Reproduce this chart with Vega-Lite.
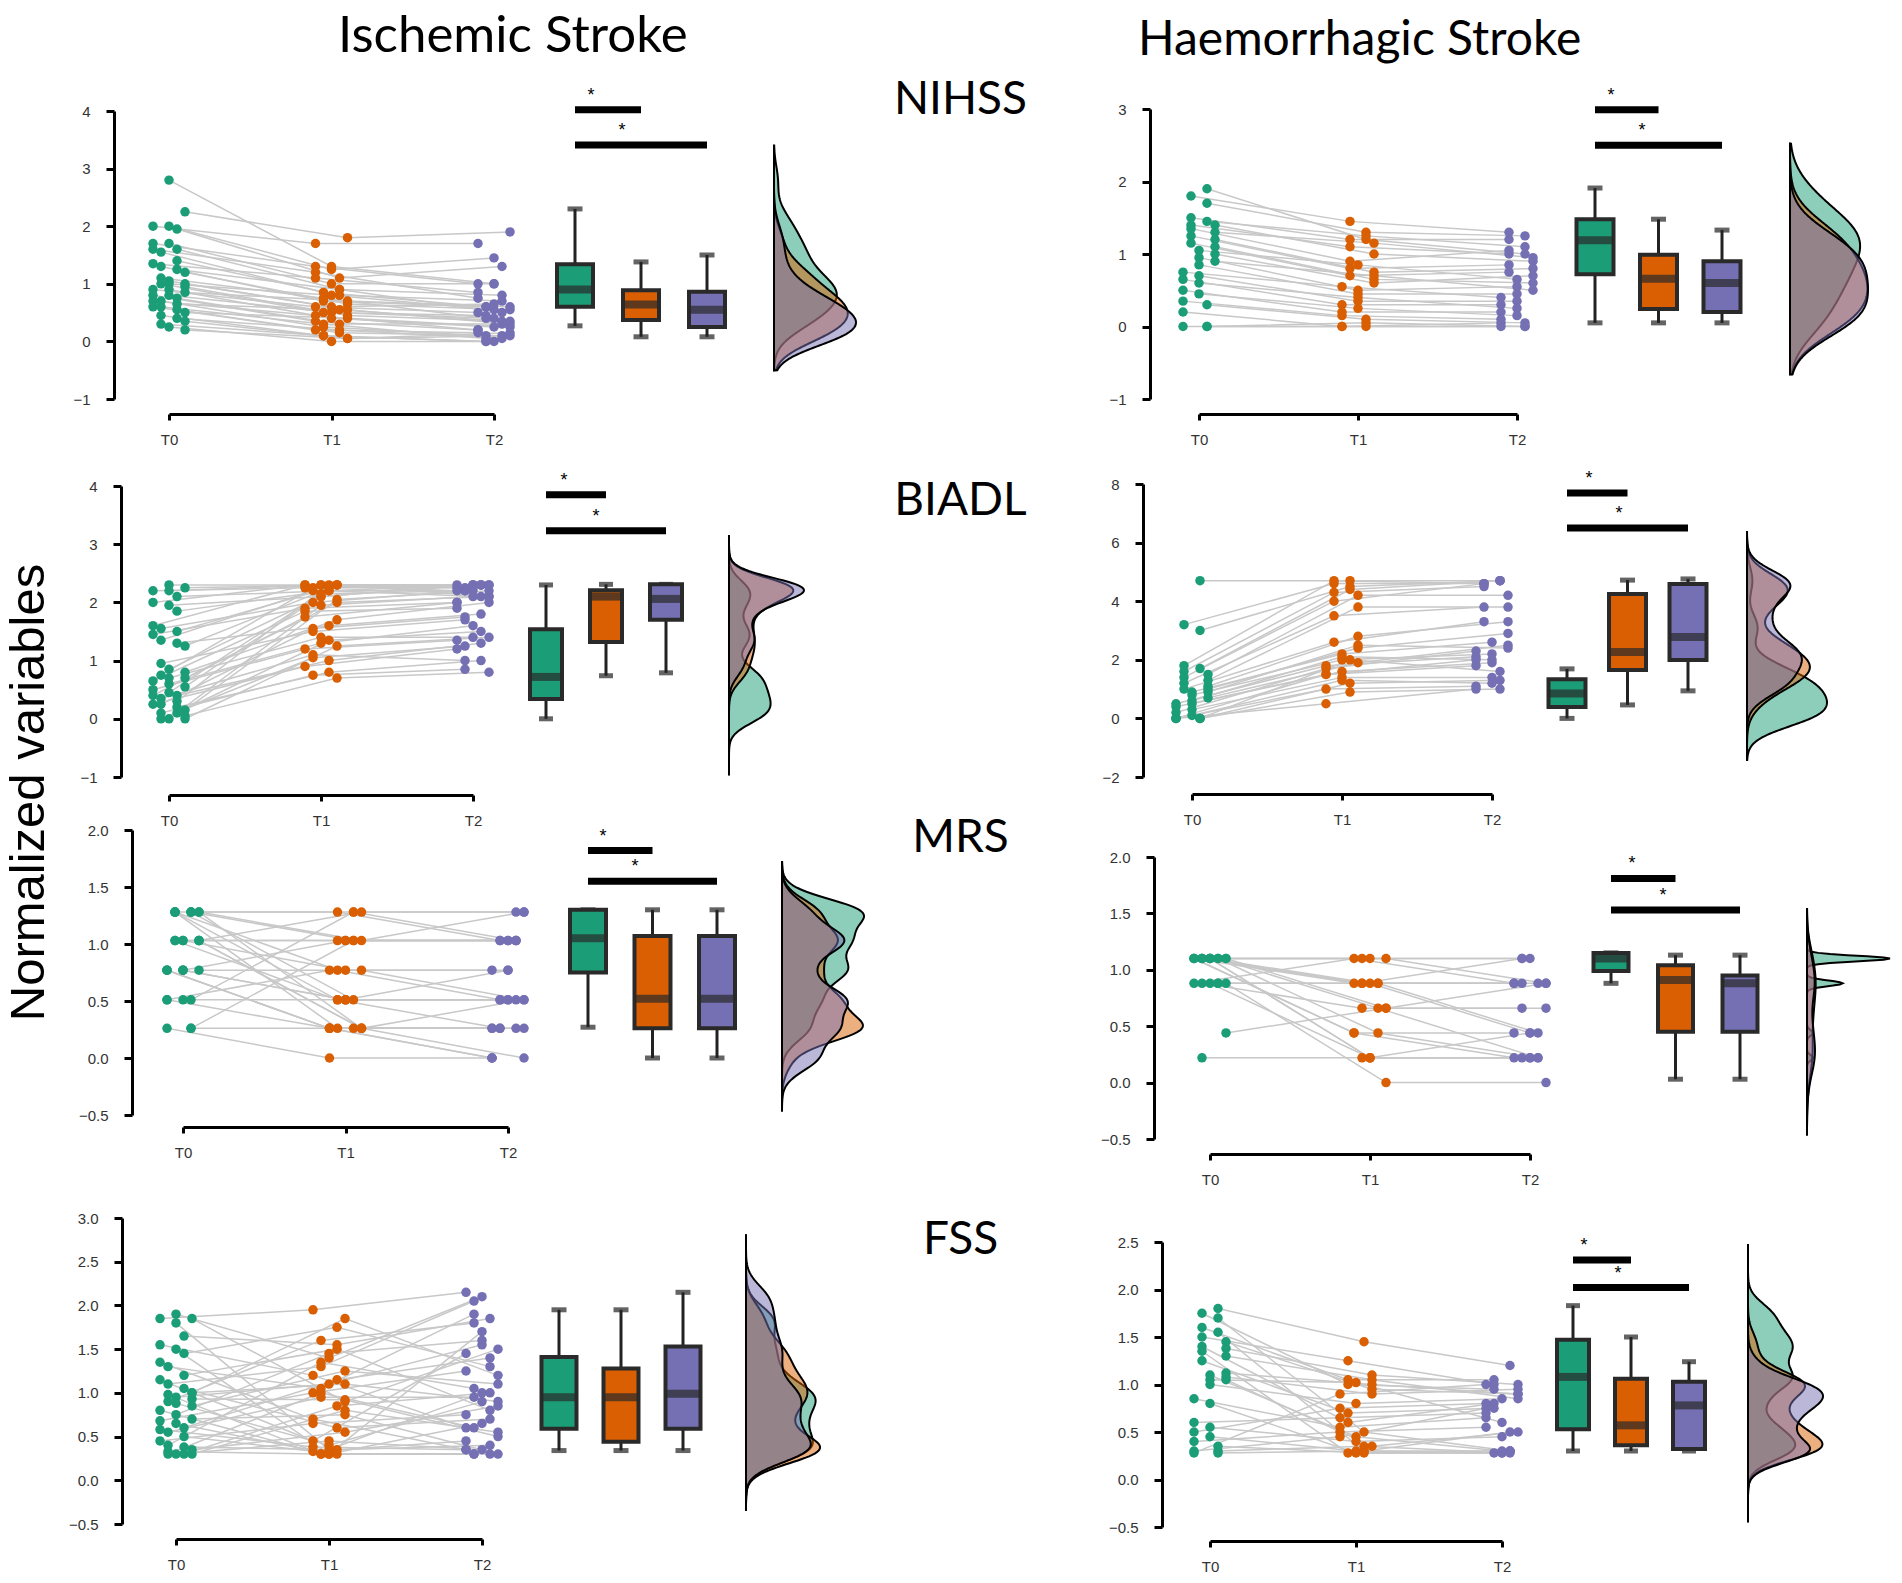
{
"$schema": "https://vega.github.io/schema/vega-lite/v6.json",
"padding": {"left": 5, "top": 11, "right": 5, "bottom": 5},
"title": {"text": "Normalized variables", "orient": "left", "anchor": "middle", "fontSize": 49, "font": "Liberation Sans", "fontWeight": "normal", "color": "#000", "offset": 14},
"datasets": {
"subj": [
{"p":"L1","id":17,"T0":2.8,"T1":1.3,"T2":1.0},{"p":"L1","id":34,"T0":2.25,"T1":1.8,"T2":1.9},{"p":"L1","id":10,"T0":2.0,"T1":1.7,"T2":1.7},{"p":"L1","id":27,"T0":2.0,"T1":1.25,"T2":1.45},{"p":"L1","id":3,"T0":1.95,"T1":1.1,"T2":1.3},{"p":"L1","id":20,"T0":1.7,"T1":1.3,"T2":1.0},{"p":"L1","id":37,"T0":1.7,"T1":1.0,"T2":1.0},{"p":"L1","id":13,"T0":1.6,"T1":0.9,"T2":0.8},{"p":"L1","id":30,"T0":1.6,"T1":1.2,"T2":0.75},{"p":"L1","id":6,"T0":1.55,"T1":0.85,"T2":0.6},{"p":"L1","id":23,"T0":1.4,"T1":0.8,"T2":0.7},{"p":"L1","id":40,"T0":1.35,"T1":1.1,"T2":0.85},{"p":"L1","id":16,"T0":1.3,"T1":0.7,"T2":0.6},{"p":"L1","id":33,"T0":1.25,"T1":0.9,"T2":0.5},{"p":"L1","id":9,"T0":1.2,"T1":0.65,"T2":0.55},{"p":"L1","id":26,"T0":1.1,"T1":0.75,"T2":0.4},{"p":"L1","id":2,"T0":1.05,"T1":0.6,"T2":0.65},{"p":"L1","id":19,"T0":1.0,"T1":0.55,"T2":0.3},{"p":"L1","id":36,"T0":1.0,"T1":0.5,"T2":0.45},{"p":"L1","id":12,"T0":1.0,"T1":0.8,"T2":0.55},{"p":"L1","id":29,"T0":0.95,"T1":0.45,"T2":0.35},{"p":"L1","id":5,"T0":0.9,"T1":0.6,"T2":0.5},{"p":"L1","id":22,"T0":0.9,"T1":0.4,"T2":0.25},{"p":"L1","id":39,"T0":0.85,"T1":0.7,"T2":0.6},{"p":"L1","id":15,"T0":0.8,"T1":0.35,"T2":0.2},{"p":"L1","id":32,"T0":0.8,"T1":0.5,"T2":0.4},{"p":"L1","id":8,"T0":0.75,"T1":0.3,"T2":0.3},{"p":"L1","id":25,"T0":0.7,"T1":0.45,"T2":0.2},{"p":"L1","id":1,"T0":0.7,"T1":0.25,"T2":0.1},{"p":"L1","id":18,"T0":0.65,"T1":0.55,"T2":0.35},{"p":"L1","id":35,"T0":0.6,"T1":0.2,"T2":0.15},{"p":"L1","id":11,"T0":0.6,"T1":0.3,"T2":0.05},{"p":"L1","id":28,"T0":0.55,"T1":0.15,"T2":0.1},{"p":"L1","id":4,"T0":0.5,"T1":0.4,"T2":0.25},{"p":"L1","id":21,"T0":0.45,"T1":0.1,"T2":0.0},{"p":"L1","id":38,"T0":0.4,"T1":0.2,"T2":0.05},{"p":"L1","id":14,"T0":0.35,"T1":0.05,"T2":0.15},{"p":"L1","id":31,"T0":0.3,"T1":0.1,"T2":0.0},{"p":"L1","id":7,"T0":0.25,"T1":0.0,"T2":0.0},{"p":"L1","id":24,"T0":0.2,"T1":0.05,"T2":0.1},
{"p":"R1","id":13,"T0":1.9,"T1":1.2,"T2":1.0},{"p":"R1","id":26,"T0":1.8,"T1":1.45,"T2":1.3},{"p":"R1","id":8,"T0":1.7,"T1":1.3,"T2":1.25},{"p":"R1","id":21,"T0":1.5,"T1":1.2,"T2":1.2},{"p":"R1","id":3,"T0":1.45,"T1":1.25,"T2":1.1},{"p":"R1","id":16,"T0":1.4,"T1":1.1,"T2":1.0},{"p":"R1","id":29,"T0":1.4,"T1":1.0,"T2":0.9},{"p":"R1","id":11,"T0":1.35,"T1":0.9,"T2":1.05},{"p":"R1","id":24,"T0":1.3,"T1":1.15,"T2":0.95},{"p":"R1","id":6,"T0":1.25,"T1":0.8,"T2":0.85},{"p":"R1","id":19,"T0":1.2,"T1":0.75,"T2":0.8},{"p":"R1","id":1,"T0":1.15,"T1":0.7,"T2":0.75},{"p":"R1","id":14,"T0":1.1,"T1":0.65,"T2":0.6},{"p":"R1","id":27,"T0":1.05,"T1":0.85,"T2":0.65},{"p":"R1","id":9,"T0":1.0,"T1":0.6,"T2":0.7},{"p":"R1","id":22,"T0":0.95,"T1":0.5,"T2":0.55},{"p":"R1","id":4,"T0":0.9,"T1":0.7,"T2":0.5},{"p":"R1","id":17,"T0":0.85,"T1":0.45,"T2":0.45},{"p":"R1","id":30,"T0":0.75,"T1":0.55,"T2":0.4},{"p":"R1","id":12,"T0":0.7,"T1":0.35,"T2":0.35},{"p":"R1","id":25,"T0":0.65,"T1":0.3,"T2":0.3},{"p":"R1","id":7,"T0":0.6,"T1":0.4,"T2":0.25},{"p":"R1","id":20,"T0":0.5,"T1":0.2,"T2":0.2},{"p":"R1","id":2,"T0":0.45,"T1":0.25,"T2":0.15},{"p":"R1","id":15,"T0":0.35,"T1":0.15,"T2":0.1},{"p":"R1","id":28,"T0":0.3,"T1":0.1,"T2":0.05},{"p":"R1","id":10,"T0":0.2,"T1":0.0,"T2":0.0},{"p":"R1","id":23,"T0":0.0,"T1":0.0,"T2":0.0},{"p":"R1","id":5,"T0":0.0,"T1":0.0,"T2":0.05},{"p":"R1","id":18,"T0":0.0,"T1":0.05,"T2":0.0},
{"p":"L2","id":17,"T0":2.3,"T1":2.3,"T2":2.3},{"p":"L2","id":34,"T0":2.25,"T1":2.3,"T2":2.3},{"p":"L2","id":10,"T0":2.2,"T1":2.25,"T2":2.3},{"p":"L2","id":27,"T0":2.2,"T1":2.3,"T2":2.25},{"p":"L2","id":3,"T0":2.1,"T1":2.2,"T2":2.3},{"p":"L2","id":20,"T0":2.0,"T1":2.3,"T2":2.2},{"p":"L2","id":37,"T0":1.95,"T1":2.1,"T2":2.3},{"p":"L2","id":13,"T0":1.85,"T1":2.2,"T2":2.1},{"p":"L2","id":30,"T0":1.6,"T1":2.3,"T2":2.25},{"p":"L2","id":6,"T0":1.55,"T1":2.0,"T2":2.2},{"p":"L2","id":23,"T0":1.5,"T1":2.25,"T2":2.3},{"p":"L2","id":40,"T0":1.45,"T1":1.9,"T2":2.0},{"p":"L2","id":16,"T0":1.35,"T1":2.2,"T2":2.2},{"p":"L2","id":33,"T0":1.3,"T1":1.6,"T2":1.8},{"p":"L2","id":9,"T0":1.25,"T1":2.3,"T2":2.1},{"p":"L2","id":26,"T0":0.95,"T1":1.5,"T2":1.7},{"p":"L2","id":2,"T0":0.85,"T1":2.1,"T2":2.3},{"p":"L2","id":19,"T0":0.8,"T1":1.7,"T2":2.0},{"p":"L2","id":36,"T0":0.75,"T1":2.25,"T2":2.25},{"p":"L2","id":12,"T0":0.7,"T1":1.4,"T2":1.4},{"p":"L2","id":29,"T0":0.7,"T1":2.0,"T2":2.1},{"p":"L2","id":5,"T0":0.65,"T1":1.85,"T2":1.9},{"p":"L2","id":22,"T0":0.6,"T1":1.3,"T2":1.6},{"p":"L2","id":39,"T0":0.55,"T1":2.3,"T2":2.3},{"p":"L2","id":15,"T0":0.5,"T1":1.2,"T2":1.35},{"p":"L2","id":32,"T0":0.45,"T1":2.15,"T2":2.2},{"p":"L2","id":8,"T0":0.4,"T1":1.0,"T2":1.3},{"p":"L2","id":25,"T0":0.4,"T1":1.75,"T2":2.0},{"p":"L2","id":1,"T0":0.35,"T1":1.1,"T2":1.0},{"p":"L2","id":18,"T0":0.3,"T1":2.3,"T2":2.3},{"p":"L2","id":35,"T0":0.25,"T1":0.9,"T2":1.2},{"p":"L2","id":11,"T0":0.25,"T1":1.55,"T2":1.75},{"p":"L2","id":28,"T0":0.2,"T1":0.8,"T2":1.0},{"p":"L2","id":4,"T0":0.15,"T1":2.05,"T2":2.2},{"p":"L2","id":21,"T0":0.1,"T1":0.75,"T2":0.85},{"p":"L2","id":38,"T0":0.1,"T1":1.35,"T2":1.5},{"p":"L2","id":14,"T0":0.05,"T1":0.7,"T2":0.8},{"p":"L2","id":31,"T0":0.0,"T1":1.05,"T2":1.25},{"p":"L2","id":7,"T0":0.0,"T1":1.95,"T2":2.1},{"p":"L2","id":24,"T0":0.0,"T1":1.25,"T2":1.4},
{"p":"R2","id":13,"T0":4.7,"T1":4.7,"T2":4.7},{"p":"R2","id":26,"T0":3.2,"T1":4.6,"T2":4.6},{"p":"R2","id":8,"T0":3.0,"T1":4.5,"T2":4.7},{"p":"R2","id":21,"T0":1.8,"T1":4.7,"T2":4.6},{"p":"R2","id":3,"T0":1.7,"T1":4.4,"T2":4.7},{"p":"R2","id":16,"T0":1.6,"T1":4.3,"T2":4.5},{"p":"R2","id":29,"T0":1.5,"T1":4.2,"T2":4.2},{"p":"R2","id":11,"T0":1.4,"T1":4.0,"T2":4.6},{"p":"R2","id":24,"T0":1.3,"T1":3.8,"T2":3.8},{"p":"R2","id":6,"T0":1.2,"T1":3.5,"T2":3.8},{"p":"R2","id":19,"T0":1.1,"T1":2.8,"T2":3.3},{"p":"R2","id":1,"T0":1.0,"T1":2.6,"T2":3.3},{"p":"R2","id":14,"T0":1.0,"T1":2.4,"T2":2.9},{"p":"R2","id":27,"T0":0.9,"T1":2.2,"T2":2.6},{"p":"R2","id":9,"T0":0.9,"T1":2.5,"T2":2.4},{"p":"R2","id":22,"T0":0.8,"T1":2.0,"T2":2.2},{"p":"R2","id":4,"T0":0.7,"T1":1.9,"T2":2.5},{"p":"R2","id":17,"T0":0.6,"T1":2.1,"T2":2.0},{"p":"R2","id":30,"T0":0.5,"T1":1.8,"T2":2.1},{"p":"R2","id":12,"T0":0.5,"T1":1.6,"T2":1.9},{"p":"R2","id":25,"T0":0.4,"T1":1.5,"T2":1.8},{"p":"R2","id":7,"T0":0.3,"T1":1.4,"T2":1.4},{"p":"R2","id":20,"T0":0.2,"T1":1.7,"T2":2.3},{"p":"R2","id":2,"T0":0.1,"T1":1.3,"T2":1.2},{"p":"R2","id":15,"T0":0.0,"T1":1.0,"T2":1.1},{"p":"R2","id":28,"T0":0.0,"T1":0.9,"T2":1.0},{"p":"R2","id":10,"T0":0.0,"T1":0.5,"T2":1.0},{"p":"R2","id":23,"T0":0.0,"T1":2.0,"T2":1.6},{"p":"R2","id":5,"T0":0.0,"T1":1.5,"T2":2.0},{"p":"R2","id":18,"T0":0.0,"T1":1.2,"T2":1.3},
{"p":"L3","id":13,"T0":1.28,"T1":1.28,"T2":1.28},{"p":"L3","id":26,"T0":1.28,"T1":1.28,"T2":1.03},{"p":"L3","id":8,"T0":1.28,"T1":1.03,"T2":1.03},{"p":"L3","id":21,"T0":1.28,"T1":0.77,"T2":0.51},{"p":"L3","id":3,"T0":1.28,"T1":0.51,"T2":0.51},{"p":"L3","id":16,"T0":1.28,"T1":0.26,"T2":0.26},{"p":"L3","id":29,"T0":1.28,"T1":0.26,"T2":0.51},{"p":"L3","id":11,"T0":1.28,"T1":0.51,"T2":0.26},{"p":"L3","id":24,"T0":1.28,"T1":1.03,"T2":1.28},{"p":"L3","id":6,"T0":1.03,"T1":1.03,"T2":1.03},{"p":"L3","id":19,"T0":1.03,"T1":1.28,"T2":1.28},{"p":"L3","id":1,"T0":1.03,"T1":0.51,"T2":0.51},{"p":"L3","id":14,"T0":1.03,"T1":0.26,"T2":0.26},{"p":"L3","id":27,"T0":1.03,"T1":0.77,"T2":0.77},{"p":"L3","id":9,"T0":1.03,"T1":0.26,"T2":0.0},{"p":"L3","id":22,"T0":1.03,"T1":1.03,"T2":1.03},{"p":"L3","id":4,"T0":0.77,"T1":0.77,"T2":0.51},{"p":"L3","id":17,"T0":0.77,"T1":0.51,"T2":0.77},{"p":"L3","id":30,"T0":0.77,"T1":0.26,"T2":0.26},{"p":"L3","id":12,"T0":0.77,"T1":1.03,"T2":1.03},{"p":"L3","id":25,"T0":0.77,"T1":0.26,"T2":0.0},{"p":"L3","id":7,"T0":0.77,"T1":0.51,"T2":0.51},{"p":"L3","id":20,"T0":0.77,"T1":0.26,"T2":0.26},{"p":"L3","id":2,"T0":0.51,"T1":0.51,"T2":0.51},{"p":"L3","id":15,"T0":0.51,"T1":0.26,"T2":0.0},{"p":"L3","id":28,"T0":0.51,"T1":1.28,"T2":1.03},{"p":"L3","id":10,"T0":0.51,"T1":0.77,"T2":0.77},{"p":"L3","id":23,"T0":0.26,"T1":0.26,"T2":0.26},{"p":"L3","id":5,"T0":0.26,"T1":0.0,"T2":0.0},{"p":"L3","id":18,"T0":0.26,"T1":1.03,"T2":1.03},
{"p":"R3","id":7,"T0":1.1,"T1":1.1,"T2":1.1},{"p":"R3","id":14,"T0":1.1,"T1":1.1,"T2":0.88},{"p":"R3","id":21,"T0":1.1,"T1":1.1,"T2":1.1},{"p":"R3","id":5,"T0":1.1,"T1":0.88,"T2":0.88},{"p":"R3","id":12,"T0":1.1,"T1":0.88,"T2":0.44},{"p":"R3","id":19,"T0":1.1,"T1":0.66,"T2":0.66},{"p":"R3","id":3,"T0":1.1,"T1":0.44,"T2":0.22},{"p":"R3","id":10,"T0":1.1,"T1":0.44,"T2":0.44},{"p":"R3","id":17,"T0":1.1,"T1":0.22,"T2":0.22},{"p":"R3","id":1,"T0":1.1,"T1":0.88,"T2":1.1},{"p":"R3","id":8,"T0":1.1,"T1":0.66,"T2":0.22},{"p":"R3","id":15,"T0":1.1,"T1":0.44,"T2":0.22},{"p":"R3","id":22,"T0":1.1,"T1":0.22,"T2":0.44},{"p":"R3","id":6,"T0":1.1,"T1":0.88,"T2":0.88},{"p":"R3","id":13,"T0":0.88,"T1":0.88,"T2":0.88},{"p":"R3","id":20,"T0":0.88,"T1":1.1,"T2":0.88},{"p":"R3","id":4,"T0":0.88,"T1":0.0,"T2":0.0},{"p":"R3","id":11,"T0":0.88,"T1":0.66,"T2":0.66},{"p":"R3","id":18,"T0":0.88,"T1":0.88,"T2":0.44},{"p":"R3","id":2,"T0":0.88,"T1":0.22,"T2":0.22},{"p":"R3","id":9,"T0":0.44,"T1":0.66,"T2":0.88},{"p":"R3","id":16,"T0":0.22,"T1":0.22,"T2":0.22},
{"p":"L4","id":17,"T0":1.9,"T1":1.4,"T2":2.1},{"p":"L4","id":34,"T0":1.85,"T1":0.9,"T2":1.5},{"p":"L4","id":10,"T0":1.85,"T1":1.95,"T2":2.15},{"p":"L4","id":27,"T0":1.8,"T1":0.35,"T2":1.0},{"p":"L4","id":3,"T0":1.65,"T1":1.55,"T2":1.85},{"p":"L4","id":20,"T0":1.55,"T1":1.2,"T2":0.6},{"p":"L4","id":37,"T0":1.5,"T1":0.3,"T2":1.7},{"p":"L4","id":13,"T0":1.45,"T1":1.75,"T2":1.3},{"p":"L4","id":30,"T0":1.35,"T1":0.7,"T2":0.35},{"p":"L4","id":6,"T0":1.3,"T1":1.05,"T2":1.9},{"p":"L4","id":23,"T0":1.2,"T1":1.5,"T2":0.8},{"p":"L4","id":40,"T0":1.15,"T1":0.45,"T2":1.45},{"p":"L4","id":16,"T0":1.1,"T1":1.3,"T2":2.05},{"p":"L4","id":33,"T0":1.05,"T1":0.6,"T2":0.7},{"p":"L4","id":9,"T0":1.0,"T1":1.85,"T2":1.2},{"p":"L4","id":26,"T0":0.98,"T1":0.3,"T2":0.3},{"p":"L4","id":2,"T0":0.95,"T1":1.1,"T2":1.55},{"p":"L4","id":19,"T0":0.93,"T1":0.92,"T2":0.5},{"p":"L4","id":36,"T0":0.9,"T1":1.6,"T2":1.8},{"p":"L4","id":12,"T0":0.88,"T1":0.4,"T2":0.9},{"p":"L4","id":29,"T0":0.85,"T1":1.25,"T2":1.1},{"p":"L4","id":5,"T0":0.8,"T1":0.33,"T2":0.45},{"p":"L4","id":22,"T0":0.75,"T1":1.45,"T2":1.6},{"p":"L4","id":39,"T0":0.7,"T1":0.75,"T2":0.3},{"p":"L4","id":15,"T0":0.68,"T1":1.0,"T2":1.25},{"p":"L4","id":32,"T0":0.65,"T1":0.3,"T2":0.65},{"p":"L4","id":8,"T0":0.6,"T1":1.15,"T2":1.4},{"p":"L4","id":25,"T0":0.58,"T1":0.38,"T2":0.35},{"p":"L4","id":1,"T0":0.55,"T1":0.95,"T2":0.95},{"p":"L4","id":18,"T0":0.5,"T1":0.3,"T2":0.3},{"p":"L4","id":35,"T0":0.45,"T1":0.65,"T2":0.75},{"p":"L4","id":11,"T0":0.4,"T1":1.35,"T2":1.05},{"p":"L4","id":28,"T0":0.38,"T1":0.35,"T2":0.4},{"p":"L4","id":4,"T0":0.35,"T1":0.55,"T2":0.85},{"p":"L4","id":21,"T0":0.33,"T1":0.3,"T2":0.3},{"p":"L4","id":38,"T0":0.3,"T1":0.85,"T2":1.0},{"p":"L4","id":14,"T0":0.3,"T1":0.8,"T2":0.55},{"p":"L4","id":31,"T0":0.3,"T1":1.0,"T2":0.6},{"p":"L4","id":7,"T0":0.3,"T1":0.45,"T2":0.35},{"p":"L4","id":24,"T0":1.0,"T1":1.1,"T2":0.9},
{"p":"R4","id":13,"T0":1.8,"T1":1.45,"T2":1.2},{"p":"R4","id":26,"T0":1.75,"T1":1.0,"T2":0.95},{"p":"R4","id":8,"T0":1.7,"T1":0.5,"T2":0.3},{"p":"R4","id":21,"T0":1.6,"T1":1.05,"T2":1.05},{"p":"R4","id":3,"T0":1.55,"T1":0.3,"T2":0.5},{"p":"R4","id":16,"T0":1.5,"T1":1.25,"T2":1.0},{"p":"R4","id":29,"T0":1.45,"T1":0.95,"T2":0.9},{"p":"R4","id":11,"T0":1.4,"T1":0.6,"T2":0.8},{"p":"R4","id":24,"T0":1.38,"T1":1.1,"T2":1.0},{"p":"R4","id":6,"T0":1.35,"T1":0.28,"T2":0.28},{"p":"R4","id":19,"T0":1.3,"T1":1.05,"T2":0.85},{"p":"R4","id":1,"T0":1.25,"T1":0.7,"T2":0.75},{"p":"R4","id":14,"T0":1.12,"T1":1.0,"T2":0.9},{"p":"R4","id":27,"T0":1.1,"T1":0.45,"T2":0.3},{"p":"R4","id":9,"T0":1.08,"T1":0.9,"T2":0.95},{"p":"R4","id":22,"T0":1.05,"T1":1.02,"T2":0.6},{"p":"R4","id":4,"T0":1.05,"T1":0.35,"T2":0.5},{"p":"R4","id":17,"T0":1.0,"T1":0.8,"T2":0.85},{"p":"R4","id":30,"T0":0.85,"T1":0.55,"T2":0.65},{"p":"R4","id":12,"T0":0.8,"T1":0.28,"T2":0.28},{"p":"R4","id":25,"T0":0.6,"T1":0.65,"T2":0.7},{"p":"R4","id":7,"T0":0.55,"T1":0.4,"T2":0.45},{"p":"R4","id":20,"T0":0.5,"T1":0.75,"T2":0.8},{"p":"R4","id":2,"T0":0.45,"T1":0.3,"T2":0.28},{"p":"R4","id":15,"T0":0.4,"T1":0.5,"T2":0.55},{"p":"R4","id":28,"T0":0.35,"T1":0.28,"T2":0.3},{"p":"R4","id":10,"T0":0.3,"T1":0.45,"T2":0.75},{"p":"R4","id":23,"T0":0.3,"T1":0.35,"T2":0.28},{"p":"R4","id":5,"T0":0.28,"T1":0.9,"T2":1.0},{"p":"R4","id":18,"T0":0.28,"T1":0.3,"T2":0.3}
],
"box": [
{"p":"L1","time":"T0","lo":0.27,"q1":0.60,"med":0.90,"q3":1.34,"hi":2.30},{"p":"L1","time":"T1","lo":0.08,"q1":0.37,"med":0.64,"q3":0.89,"hi":1.38},{"p":"L1","time":"T2","lo":0.08,"q1":0.25,"med":0.55,"q3":0.86,"hi":1.50},
{"p":"R1","time":"T0","lo":0.05,"q1":0.72,"med":1.19,"q3":1.48,"hi":1.91},{"p":"R1","time":"T1","lo":0.05,"q1":0.24,"med":0.66,"q3":0.99,"hi":1.48},{"p":"R1","time":"T2","lo":0.05,"q1":0.20,"med":0.60,"q3":0.90,"hi":1.33},
{"p":"L2","time":"T0","lo":0.0,"q1":0.34,"med":0.72,"q3":1.54,"hi":2.30},{"p":"L2","time":"T1","lo":0.74,"q1":1.32,"med":2.10,"q3":2.21,"hi":2.31},{"p":"L2","time":"T2","lo":0.79,"q1":1.70,"med":2.06,"q3":2.31,"hi":2.31},
{"p":"R2","time":"T0","lo":0.0,"q1":0.39,"med":0.85,"q3":1.34,"hi":1.69},{"p":"R2","time":"T1","lo":0.46,"q1":1.65,"med":2.27,"q3":4.25,"hi":4.72},{"p":"R2","time":"T2","lo":0.94,"q1":1.99,"med":2.78,"q3":4.59,"hi":4.76},
{"p":"L3","time":"T0","lo":0.27,"q1":0.75,"med":1.05,"q3":1.30,"hi":1.30},{"p":"L3","time":"T1","lo":0.0,"q1":0.26,"med":0.52,"q3":1.07,"hi":1.30},{"p":"L3","time":"T2","lo":0.0,"q1":0.26,"med":0.52,"q3":1.07,"hi":1.30},
{"p":"R3","time":"T0","lo":0.88,"q1":0.99,"med":1.10,"q3":1.15,"hi":1.15},{"p":"R3","time":"T1","lo":0.03,"q1":0.45,"med":0.91,"q3":1.04,"hi":1.13},{"p":"R3","time":"T2","lo":0.03,"q1":0.45,"med":0.88,"q3":0.95,"hi":1.13},
{"p":"L4","time":"T0","lo":0.34,"q1":0.59,"med":0.95,"q3":1.41,"hi":1.95},{"p":"L4","time":"T1","lo":0.34,"q1":0.44,"med":0.95,"q3":1.28,"hi":1.95},{"p":"L4","time":"T2","lo":0.34,"q1":0.59,"med":0.99,"q3":1.53,"hi":2.15},
{"p":"R4","time":"T0","lo":0.30,"q1":0.53,"med":1.08,"q3":1.47,"hi":1.83},{"p":"R4","time":"T1","lo":0.30,"q1":0.36,"med":0.57,"q3":1.06,"hi":1.50},{"p":"R4","time":"T2","lo":0.30,"q1":0.32,"med":0.78,"q3":1.03,"hi":1.24}
],
"sig": [
{"p":"L1","from":"T0","to":"T1","y":4.02,"sig":"*"},{"p":"L1","from":"T0","to":"T2","y":3.41,"sig":"*"},
{"p":"R1","from":"T0","to":"T1","y":2.99,"sig":"*"},{"p":"R1","from":"T0","to":"T2","y":2.50,"sig":"*"},
{"p":"L2","from":"T0","to":"T1","y":3.85,"sig":"*"},{"p":"L2","from":"T0","to":"T2","y":3.23,"sig":"*"},
{"p":"R2","from":"T0","to":"T1","y":7.69,"sig":"*"},{"p":"R2","from":"T0","to":"T2","y":6.50,"sig":"*"},
{"p":"L3","from":"T0","to":"T1","y":1.82,"sig":"*"},{"p":"L3","from":"T0","to":"T2","y":1.55,"sig":"*"},
{"p":"R3","from":"T0","to":"T1","y":1.81,"sig":"*"},{"p":"R3","from":"T0","to":"T2","y":1.53,"sig":"*"},
{"p":"R4","from":"T0","to":"T1","y":2.31,"sig":"*"},{"p":"R4","from":"T0","to":"T2","y":2.02,"sig":"*"}
]
},
"columns": 2,
"spacing": 0,
"bounds": "flush",
"concat": [
{"width": 1030, "height": 352,
 "title": {"text": "Ischemic Stroke", "anchor": "start", "frame": "group", "dx": 206, "offset": -41, "baseline": "alphabetic", "fontSize": 51, "font": "Lato", "fontWeight": "normal", "color": "#000"},
 "layer": [
  {"data": {"name": "subj"}, "transform": [{"filter": "datum.p == 'L1'"}, {"fold": ["T0","T1","T2"], "as": ["time","value"]}],
   "layer": [
    {"transform": [{"filter": "datum.id % 5 == 0"}], "mark": {"type": "line", "color": "#c8c8c8", "strokeWidth": 1.5, "xOffset": -16},
     "encoding": {
      "x": {"field": "time", "type": "ordinal", "scale": {"type": "point", "domain": ["T0","T1","T2"], "range": [37,362], "padding": 0}, "axis": {"offset": 0, "title": null}},
      "y": {"field": "value", "type": "quantitative", "scale": {"domain": [-1,4], "range": [337,49], "nice": false, "zero": false}, "axis": {"offset": 18, "values": [-1,0,1,2,3,4], "format": "d", "title": null}},
      "detail": {"field": "id", "type": "nominal"}}},
    {"transform": [{"filter": "datum.id % 5 == 1"}], "mark": {"type": "line", "color": "#c8c8c8", "strokeWidth": 1.5, "xOffset": -8}, "encoding": {"x": {"field": "time", "type": "ordinal"}, "y": {"field": "value", "type": "quantitative"}, "detail": {"field": "id", "type": "nominal"}}},
    {"transform": [{"filter": "datum.id % 5 == 2"}], "mark": {"type": "line", "color": "#c8c8c8", "strokeWidth": 1.5, "xOffset": 0}, "encoding": {"x": {"field": "time", "type": "ordinal"}, "y": {"field": "value", "type": "quantitative"}, "detail": {"field": "id", "type": "nominal"}}},
    {"transform": [{"filter": "datum.id % 5 == 3"}], "mark": {"type": "line", "color": "#c8c8c8", "strokeWidth": 1.5, "xOffset": 8}, "encoding": {"x": {"field": "time", "type": "ordinal"}, "y": {"field": "value", "type": "quantitative"}, "detail": {"field": "id", "type": "nominal"}}},
    {"transform": [{"filter": "datum.id % 5 == 4"}], "mark": {"type": "line", "color": "#c8c8c8", "strokeWidth": 1.5, "xOffset": 16}, "encoding": {"x": {"field": "time", "type": "ordinal"}, "y": {"field": "value", "type": "quantitative"}, "detail": {"field": "id", "type": "nominal"}}},
    {"transform": [{"filter": "datum.id % 5 == 0"}], "mark": {"type": "point", "filled": true, "size": 90, "opacity": 1, "xOffset": -16}, "encoding": {"x": {"field": "time", "type": "ordinal"}, "y": {"field": "value", "type": "quantitative"}, "color": {"field": "time", "type": "nominal", "legend": null}}},
    {"transform": [{"filter": "datum.id % 5 == 1"}], "mark": {"type": "point", "filled": true, "size": 90, "opacity": 1, "xOffset": -8}, "encoding": {"x": {"field": "time", "type": "ordinal"}, "y": {"field": "value", "type": "quantitative"}, "color": {"field": "time", "type": "nominal", "legend": null}}},
    {"transform": [{"filter": "datum.id % 5 == 2"}], "mark": {"type": "point", "filled": true, "size": 90, "opacity": 1, "xOffset": 0}, "encoding": {"x": {"field": "time", "type": "ordinal"}, "y": {"field": "value", "type": "quantitative"}, "color": {"field": "time", "type": "nominal", "legend": null}}},
    {"transform": [{"filter": "datum.id % 5 == 3"}], "mark": {"type": "point", "filled": true, "size": 90, "opacity": 1, "xOffset": 8}, "encoding": {"x": {"field": "time", "type": "ordinal"}, "y": {"field": "value", "type": "quantitative"}, "color": {"field": "time", "type": "nominal", "legend": null}}},
    {"transform": [{"filter": "datum.id % 5 == 4"}], "mark": {"type": "point", "filled": true, "size": 90, "opacity": 1, "xOffset": 16}, "encoding": {"x": {"field": "time", "type": "ordinal"}, "y": {"field": "value", "type": "quantitative"}, "color": {"field": "time", "type": "nominal", "legend": null}}}
   ]},
  {"layer": [
    {"data": {"name": "box"}, "transform": [{"filter": "datum.p == 'L1'"}],
     "layer": [
      {"mark": {"type": "rule", "color": "#222", "strokeWidth": 3}, "encoding": {"x": {"field": "time", "type": "ordinal", "scale": {"type": "point", "domain": ["T0","T1","T2"], "range": [443,575], "padding": 0}, "axis": null}, "y": {"field": "lo", "type": "quantitative"}, "y2": {"field": "hi"}}},
      {"mark": {"type": "tick", "color": "#222", "thickness": 5, "size": 15}, "encoding": {"x": {"field": "time", "type": "ordinal"}, "y": {"field": "lo", "type": "quantitative"}}},
      {"mark": {"type": "tick", "color": "#222", "thickness": 5, "size": 15}, "encoding": {"x": {"field": "time", "type": "ordinal"}, "y": {"field": "hi", "type": "quantitative"}}},
      {"mark": {"type": "bar", "width": 36, "stroke": "#2a2a2a", "strokeWidth": 4}, "encoding": {"x": {"field": "time", "type": "ordinal"}, "y": {"field": "q1", "type": "quantitative"}, "y2": {"field": "q3"}, "color": {"field": "time", "type": "nominal", "legend": null}}},
      {"mark": {"type": "tick", "color": "#2a2a2a", "thickness": 8, "size": 36}, "encoding": {"x": {"field": "time", "type": "ordinal"}, "y": {"field": "med", "type": "quantitative"}}}
     ]},
    {"data": {"name": "sig"}, "transform": [{"filter": "datum.p == 'L1'"}],
     "layer": [
      {"mark": {"type": "rule", "color": "#000", "strokeWidth": 7}, "encoding": {"x": {"field": "from", "type": "ordinal"}, "x2": {"field": "to"}, "y": {"field": "y", "type": "quantitative"}}},
      {"transform": [{"filter": "datum.to == 'T1'"}], "mark": {"type": "text", "fontSize": 18, "dx": 16, "dy": -14}, "encoding": {"x": {"field": "from", "type": "ordinal"}, "y": {"field": "y", "type": "quantitative"}, "text": {"field": "sig"}}},
      {"transform": [{"filter": "datum.to == 'T2'"}], "mark": {"type": "text", "fontSize": 18, "dx": 47, "dy": -14}, "encoding": {"x": {"field": "from", "type": "ordinal"}, "y": {"field": "y", "type": "quantitative"}, "text": {"field": "sig"}}}
     ]}
  ]},
  {"data": {"name": "subj"}, "transform": [{"filter": "datum.p == 'L1'"}, {"fold": ["T0","T1","T2"], "as": ["time","value"]}, {"density": "value", "groupby": ["time"], "bandwidth": 0.25, "extent": [-0.5, 3.4]}],
   "mark": {"type": "area", "orient": "horizontal", "fillOpacity": 0.5, "stroke": "#000", "strokeWidth": 2},
   "encoding": {"y": {"field": "value", "type": "quantitative"}, "x": {"field": "density", "type": "quantitative", "stack": null, "scale": {"range": [642,724], "nice": false}, "axis": null}, "color": {"field": "time", "type": "nominal", "legend": null}}}
 ],
 "resolve": {"scale": {"x": "independent"}, "axis": {"x": "independent"}}
},
{"width": 730, "height": 352,
 "title": {"text": "Haemorrhagic Stroke", "anchor": "start", "frame": "group", "dx": -24, "offset": -41, "baseline": "alphabetic", "fontSize": 48, "font": "Lato", "fontWeight": "normal", "color": "#000"},
 "layer": [
  {"data": {"name": "subj"}, "transform": [{"filter": "datum.p == 'R1'"}, {"fold": ["T0","T1","T2"], "as": ["time","value"]}],
   "layer": [
    {"transform": [{"filter": "datum.id % 5 == 0"}], "mark": {"type": "line", "color": "#c8c8c8", "strokeWidth": 1.5, "xOffset": -16},
     "encoding": {
      "x": {"field": "time", "type": "ordinal", "scale": {"type": "point", "domain": ["T0","T1","T2"], "range": [37,355], "padding": 0}, "axis": {"offset": 0, "title": null}},
      "y": {"field": "value", "type": "quantitative", "scale": {"domain": [-1,3], "range": [337,47], "nice": false, "zero": false}, "axis": {"offset": 12, "values": [-1,0,1,2,3], "format": "d", "title": "NIHSS", "titleAngle": 0, "titleX": -190, "titleY": 37, "titleAlign": "center", "titleBaseline": "middle", "titleFontSize": 46}},
      "detail": {"field": "id", "type": "nominal"}}},
    {"transform": [{"filter": "datum.id % 5 == 1"}], "mark": {"type": "line", "color": "#c8c8c8", "strokeWidth": 1.5, "xOffset": -8}, "encoding": {"x": {"field": "time", "type": "ordinal"}, "y": {"field": "value", "type": "quantitative"}, "detail": {"field": "id", "type": "nominal"}}},
    {"transform": [{"filter": "datum.id % 5 == 2"}], "mark": {"type": "line", "color": "#c8c8c8", "strokeWidth": 1.5, "xOffset": 0}, "encoding": {"x": {"field": "time", "type": "ordinal"}, "y": {"field": "value", "type": "quantitative"}, "detail": {"field": "id", "type": "nominal"}}},
    {"transform": [{"filter": "datum.id % 5 == 3"}], "mark": {"type": "line", "color": "#c8c8c8", "strokeWidth": 1.5, "xOffset": 8}, "encoding": {"x": {"field": "time", "type": "ordinal"}, "y": {"field": "value", "type": "quantitative"}, "detail": {"field": "id", "type": "nominal"}}},
    {"transform": [{"filter": "datum.id % 5 == 4"}], "mark": {"type": "line", "color": "#c8c8c8", "strokeWidth": 1.5, "xOffset": 16}, "encoding": {"x": {"field": "time", "type": "ordinal"}, "y": {"field": "value", "type": "quantitative"}, "detail": {"field": "id", "type": "nominal"}}},
    {"transform": [{"filter": "datum.id % 5 == 0"}], "mark": {"type": "point", "filled": true, "size": 90, "opacity": 1, "xOffset": -16}, "encoding": {"x": {"field": "time", "type": "ordinal"}, "y": {"field": "value", "type": "quantitative"}, "color": {"field": "time", "type": "nominal", "legend": null}}},
    {"transform": [{"filter": "datum.id % 5 == 1"}], "mark": {"type": "point", "filled": true, "size": 90, "opacity": 1, "xOffset": -8}, "encoding": {"x": {"field": "time", "type": "ordinal"}, "y": {"field": "value", "type": "quantitative"}, "color": {"field": "time", "type": "nominal", "legend": null}}},
    {"transform": [{"filter": "datum.id % 5 == 2"}], "mark": {"type": "point", "filled": true, "size": 90, "opacity": 1, "xOffset": 0}, "encoding": {"x": {"field": "time", "type": "ordinal"}, "y": {"field": "value", "type": "quantitative"}, "color": {"field": "time", "type": "nominal", "legend": null}}},
    {"transform": [{"filter": "datum.id % 5 == 3"}], "mark": {"type": "point", "filled": true, "size": 90, "opacity": 1, "xOffset": 8}, "encoding": {"x": {"field": "time", "type": "ordinal"}, "y": {"field": "value", "type": "quantitative"}, "color": {"field": "time", "type": "nominal", "legend": null}}},
    {"transform": [{"filter": "datum.id % 5 == 4"}], "mark": {"type": "point", "filled": true, "size": 90, "opacity": 1, "xOffset": 16}, "encoding": {"x": {"field": "time", "type": "ordinal"}, "y": {"field": "value", "type": "quantitative"}, "color": {"field": "time", "type": "nominal", "legend": null}}}
   ]},
  {"layer": [
    {"data": {"name": "box"}, "transform": [{"filter": "datum.p == 'R1'"}],
     "layer": [
      {"mark": {"type": "rule", "color": "#222", "strokeWidth": 3}, "encoding": {"x": {"field": "time", "type": "ordinal", "scale": {"type": "point", "domain": ["T0","T1","T2"], "range": [433,560], "padding": 0}, "axis": null}, "y": {"field": "lo", "type": "quantitative"}, "y2": {"field": "hi"}}},
      {"mark": {"type": "tick", "color": "#222", "thickness": 5, "size": 15}, "encoding": {"x": {"field": "time", "type": "ordinal"}, "y": {"field": "lo", "type": "quantitative"}}},
      {"mark": {"type": "tick", "color": "#222", "thickness": 5, "size": 15}, "encoding": {"x": {"field": "time", "type": "ordinal"}, "y": {"field": "hi", "type": "quantitative"}}},
      {"mark": {"type": "bar", "width": 37, "stroke": "#2a2a2a", "strokeWidth": 4}, "encoding": {"x": {"field": "time", "type": "ordinal"}, "y": {"field": "q1", "type": "quantitative"}, "y2": {"field": "q3"}, "color": {"field": "time", "type": "nominal", "legend": null}}},
      {"mark": {"type": "tick", "color": "#2a2a2a", "thickness": 8, "size": 37}, "encoding": {"x": {"field": "time", "type": "ordinal"}, "y": {"field": "med", "type": "quantitative"}}}
     ]},
    {"data": {"name": "sig"}, "transform": [{"filter": "datum.p == 'R1'"}],
     "layer": [
      {"mark": {"type": "rule", "color": "#000", "strokeWidth": 7}, "encoding": {"x": {"field": "from", "type": "ordinal"}, "x2": {"field": "to"}, "y": {"field": "y", "type": "quantitative"}}},
      {"transform": [{"filter": "datum.to == 'T1'"}], "mark": {"type": "text", "fontSize": 18, "dx": 16, "dy": -14}, "encoding": {"x": {"field": "from", "type": "ordinal"}, "y": {"field": "y", "type": "quantitative"}, "text": {"field": "sig"}}},
      {"transform": [{"filter": "datum.to == 'T2'"}], "mark": {"type": "text", "fontSize": 18, "dx": 47, "dy": -14}, "encoding": {"x": {"field": "from", "type": "ordinal"}, "y": {"field": "y", "type": "quantitative"}, "text": {"field": "sig"}}}
     ]}
  ]},
  {"data": {"name": "subj"}, "transform": [{"filter": "datum.p == 'R1'"}, {"fold": ["T0","T1","T2"], "as": ["time","value"]}, {"density": "value", "groupby": ["time"], "bandwidth": 0.3, "extent": [-0.66, 2.52]}],
   "mark": {"type": "area", "orient": "horizontal", "fillOpacity": 0.5, "stroke": "#000", "strokeWidth": 2},
   "encoding": {"y": {"field": "value", "type": "quantitative"}, "x": {"field": "density", "type": "quantitative", "stack": null, "scale": {"range": [628,706], "nice": false}, "axis": null}, "color": {"field": "time", "type": "nominal", "legend": null}}}
 ],
 "resolve": {"scale": {"x": "independent"}, "axis": {"x": "independent"}}
},
{"width": 1030, "height": 380,
 "layer": [
  {"data": {"name": "subj"}, "transform": [{"filter": "datum.p == 'L2'"}, {"fold": ["T0","T1","T2"], "as": ["time","value"]}],
   "layer": [
    {"transform": [{"filter": "datum.id % 5 == 0"}], "mark": {"type": "line", "color": "#c8c8c8", "strokeWidth": 1.5, "xOffset": -16},
     "encoding": {
      "x": {"field": "time", "type": "ordinal", "scale": {"type": "point", "domain": ["T0","T1","T2"], "range": [37,341], "padding": 0}, "axis": {"offset": 1, "title": null}},
      "y": {"field": "value", "type": "quantitative", "scale": {"domain": [-1,4], "range": [363,72], "nice": false, "zero": false}, "axis": {"offset": 11, "values": [-1,0,1,2,3,4], "format": "d", "title": null}},
      "detail": {"field": "id", "type": "nominal"}}},
    {"transform": [{"filter": "datum.id % 5 == 1"}], "mark": {"type": "line", "color": "#c8c8c8", "strokeWidth": 1.5, "xOffset": -8}, "encoding": {"x": {"field": "time", "type": "ordinal"}, "y": {"field": "value", "type": "quantitative"}, "detail": {"field": "id", "type": "nominal"}}},
    {"transform": [{"filter": "datum.id % 5 == 2"}], "mark": {"type": "line", "color": "#c8c8c8", "strokeWidth": 1.5, "xOffset": 0}, "encoding": {"x": {"field": "time", "type": "ordinal"}, "y": {"field": "value", "type": "quantitative"}, "detail": {"field": "id", "type": "nominal"}}},
    {"transform": [{"filter": "datum.id % 5 == 3"}], "mark": {"type": "line", "color": "#c8c8c8", "strokeWidth": 1.5, "xOffset": 8}, "encoding": {"x": {"field": "time", "type": "ordinal"}, "y": {"field": "value", "type": "quantitative"}, "detail": {"field": "id", "type": "nominal"}}},
    {"transform": [{"filter": "datum.id % 5 == 4"}], "mark": {"type": "line", "color": "#c8c8c8", "strokeWidth": 1.5, "xOffset": 16}, "encoding": {"x": {"field": "time", "type": "ordinal"}, "y": {"field": "value", "type": "quantitative"}, "detail": {"field": "id", "type": "nominal"}}},
    {"transform": [{"filter": "datum.id % 5 == 0"}], "mark": {"type": "point", "filled": true, "size": 90, "opacity": 1, "xOffset": -16}, "encoding": {"x": {"field": "time", "type": "ordinal"}, "y": {"field": "value", "type": "quantitative"}, "color": {"field": "time", "type": "nominal", "legend": null}}},
    {"transform": [{"filter": "datum.id % 5 == 1"}], "mark": {"type": "point", "filled": true, "size": 90, "opacity": 1, "xOffset": -8}, "encoding": {"x": {"field": "time", "type": "ordinal"}, "y": {"field": "value", "type": "quantitative"}, "color": {"field": "time", "type": "nominal", "legend": null}}},
    {"transform": [{"filter": "datum.id % 5 == 2"}], "mark": {"type": "point", "filled": true, "size": 90, "opacity": 1, "xOffset": 0}, "encoding": {"x": {"field": "time", "type": "ordinal"}, "y": {"field": "value", "type": "quantitative"}, "color": {"field": "time", "type": "nominal", "legend": null}}},
    {"transform": [{"filter": "datum.id % 5 == 3"}], "mark": {"type": "point", "filled": true, "size": 90, "opacity": 1, "xOffset": 8}, "encoding": {"x": {"field": "time", "type": "ordinal"}, "y": {"field": "value", "type": "quantitative"}, "color": {"field": "time", "type": "nominal", "legend": null}}},
    {"transform": [{"filter": "datum.id % 5 == 4"}], "mark": {"type": "point", "filled": true, "size": 90, "opacity": 1, "xOffset": 16}, "encoding": {"x": {"field": "time", "type": "ordinal"}, "y": {"field": "value", "type": "quantitative"}, "color": {"field": "time", "type": "nominal", "legend": null}}}
   ]},
  {"layer": [
    {"data": {"name": "box"}, "transform": [{"filter": "datum.p == 'L2'"}],
     "layer": [
      {"mark": {"type": "rule", "color": "#222", "strokeWidth": 3}, "encoding": {"x": {"field": "time", "type": "ordinal", "scale": {"type": "point", "domain": ["T0","T1","T2"], "range": [414,534], "padding": 0}, "axis": null}, "y": {"field": "lo", "type": "quantitative"}, "y2": {"field": "hi"}}},
      {"mark": {"type": "tick", "color": "#222", "thickness": 5, "size": 14}, "encoding": {"x": {"field": "time", "type": "ordinal"}, "y": {"field": "lo", "type": "quantitative"}}},
      {"mark": {"type": "tick", "color": "#222", "thickness": 5, "size": 14}, "encoding": {"x": {"field": "time", "type": "ordinal"}, "y": {"field": "hi", "type": "quantitative"}}},
      {"mark": {"type": "bar", "width": 32, "stroke": "#2a2a2a", "strokeWidth": 4}, "encoding": {"x": {"field": "time", "type": "ordinal"}, "y": {"field": "q1", "type": "quantitative"}, "y2": {"field": "q3"}, "color": {"field": "time", "type": "nominal", "legend": null}}},
      {"mark": {"type": "tick", "color": "#2a2a2a", "thickness": 8, "size": 32}, "encoding": {"x": {"field": "time", "type": "ordinal"}, "y": {"field": "med", "type": "quantitative"}}}
     ]},
    {"data": {"name": "sig"}, "transform": [{"filter": "datum.p == 'L2'"}],
     "layer": [
      {"mark": {"type": "rule", "color": "#000", "strokeWidth": 7}, "encoding": {"x": {"field": "from", "type": "ordinal"}, "x2": {"field": "to"}, "y": {"field": "y", "type": "quantitative"}}},
      {"transform": [{"filter": "datum.to == 'T1'"}], "mark": {"type": "text", "fontSize": 18, "dx": 18, "dy": -14}, "encoding": {"x": {"field": "from", "type": "ordinal"}, "y": {"field": "y", "type": "quantitative"}, "text": {"field": "sig"}}},
      {"transform": [{"filter": "datum.to == 'T2'"}], "mark": {"type": "text", "fontSize": 18, "dx": 50, "dy": -14}, "encoding": {"x": {"field": "from", "type": "ordinal"}, "y": {"field": "y", "type": "quantitative"}, "text": {"field": "sig"}}}
     ]}
  ]},
  {"data": {"name": "subj"}, "transform": [{"filter": "datum.p == 'L2'"}, {"fold": ["T0","T1","T2"], "as": ["time","value"]}, {"density": "value", "groupby": ["time"], "bandwidth": 0.18, "extent": [-0.97, 3.16]}],
   "mark": {"type": "area", "orient": "horizontal", "fillOpacity": 0.5, "stroke": "#000", "strokeWidth": 2},
   "encoding": {"y": {"field": "value", "type": "quantitative"}, "x": {"field": "density", "type": "quantitative", "stack": null, "scale": {"range": [597,672], "nice": false}, "axis": null}, "color": {"field": "time", "type": "nominal", "legend": null}}}
 ],
 "resolve": {"scale": {"x": "independent"}, "axis": {"x": "independent"}}
},
{"width": 730, "height": 380,
 "layer": [
  {"data": {"name": "subj"}, "transform": [{"filter": "datum.p == 'R2'"}, {"fold": ["T0","T1","T2"], "as": ["time","value"]}],
   "layer": [
    {"transform": [{"filter": "datum.id % 5 == 0"}], "mark": {"type": "line", "color": "#c8c8c8", "strokeWidth": 1.5, "xOffset": -16},
     "encoding": {
      "x": {"field": "time", "type": "ordinal", "scale": {"type": "point", "domain": ["T0","T1","T2"], "range": [30,330], "padding": 0}, "axis": {"offset": 0, "title": null}},
      "y": {"field": "value", "type": "quantitative", "scale": {"domain": [-2,8], "range": [363,70], "nice": false, "zero": false}, "axis": {"offset": 19, "values": [-2,0,2,4,6,8], "format": "d", "title": "BIADL", "titleAngle": 0, "titleX": -183, "titleY": 86, "titleAlign": "center", "titleBaseline": "middle", "titleFontSize": 46}},
      "detail": {"field": "id", "type": "nominal"}}},
    {"transform": [{"filter": "datum.id % 5 == 1"}], "mark": {"type": "line", "color": "#c8c8c8", "strokeWidth": 1.5, "xOffset": -8}, "encoding": {"x": {"field": "time", "type": "ordinal"}, "y": {"field": "value", "type": "quantitative"}, "detail": {"field": "id", "type": "nominal"}}},
    {"transform": [{"filter": "datum.id % 5 == 2"}], "mark": {"type": "line", "color": "#c8c8c8", "strokeWidth": 1.5, "xOffset": 0}, "encoding": {"x": {"field": "time", "type": "ordinal"}, "y": {"field": "value", "type": "quantitative"}, "detail": {"field": "id", "type": "nominal"}}},
    {"transform": [{"filter": "datum.id % 5 == 3"}], "mark": {"type": "line", "color": "#c8c8c8", "strokeWidth": 1.5, "xOffset": 8}, "encoding": {"x": {"field": "time", "type": "ordinal"}, "y": {"field": "value", "type": "quantitative"}, "detail": {"field": "id", "type": "nominal"}}},
    {"transform": [{"filter": "datum.id % 5 == 4"}], "mark": {"type": "line", "color": "#c8c8c8", "strokeWidth": 1.5, "xOffset": 16}, "encoding": {"x": {"field": "time", "type": "ordinal"}, "y": {"field": "value", "type": "quantitative"}, "detail": {"field": "id", "type": "nominal"}}},
    {"transform": [{"filter": "datum.id % 5 == 0"}], "mark": {"type": "point", "filled": true, "size": 90, "opacity": 1, "xOffset": -16}, "encoding": {"x": {"field": "time", "type": "ordinal"}, "y": {"field": "value", "type": "quantitative"}, "color": {"field": "time", "type": "nominal", "legend": null}}},
    {"transform": [{"filter": "datum.id % 5 == 1"}], "mark": {"type": "point", "filled": true, "size": 90, "opacity": 1, "xOffset": -8}, "encoding": {"x": {"field": "time", "type": "ordinal"}, "y": {"field": "value", "type": "quantitative"}, "color": {"field": "time", "type": "nominal", "legend": null}}},
    {"transform": [{"filter": "datum.id % 5 == 2"}], "mark": {"type": "point", "filled": true, "size": 90, "opacity": 1, "xOffset": 0}, "encoding": {"x": {"field": "time", "type": "ordinal"}, "y": {"field": "value", "type": "quantitative"}, "color": {"field": "time", "type": "nominal", "legend": null}}},
    {"transform": [{"filter": "datum.id % 5 == 3"}], "mark": {"type": "point", "filled": true, "size": 90, "opacity": 1, "xOffset": 8}, "encoding": {"x": {"field": "time", "type": "ordinal"}, "y": {"field": "value", "type": "quantitative"}, "color": {"field": "time", "type": "nominal", "legend": null}}},
    {"transform": [{"filter": "datum.id % 5 == 4"}], "mark": {"type": "point", "filled": true, "size": 90, "opacity": 1, "xOffset": 16}, "encoding": {"x": {"field": "time", "type": "ordinal"}, "y": {"field": "value", "type": "quantitative"}, "color": {"field": "time", "type": "nominal", "legend": null}}}
   ]},
  {"layer": [
    {"data": {"name": "box"}, "transform": [{"filter": "datum.p == 'R2'"}],
     "layer": [
      {"mark": {"type": "rule", "color": "#222", "strokeWidth": 3}, "encoding": {"x": {"field": "time", "type": "ordinal", "scale": {"type": "point", "domain": ["T0","T1","T2"], "range": [405,526], "padding": 0}, "axis": null}, "y": {"field": "lo", "type": "quantitative"}, "y2": {"field": "hi"}}},
      {"mark": {"type": "tick", "color": "#222", "thickness": 5, "size": 15}, "encoding": {"x": {"field": "time", "type": "ordinal"}, "y": {"field": "lo", "type": "quantitative"}}},
      {"mark": {"type": "tick", "color": "#222", "thickness": 5, "size": 15}, "encoding": {"x": {"field": "time", "type": "ordinal"}, "y": {"field": "hi", "type": "quantitative"}}},
      {"mark": {"type": "bar", "width": 37, "stroke": "#2a2a2a", "strokeWidth": 4}, "encoding": {"x": {"field": "time", "type": "ordinal"}, "y": {"field": "q1", "type": "quantitative"}, "y2": {"field": "q3"}, "color": {"field": "time", "type": "nominal", "legend": null}}},
      {"mark": {"type": "tick", "color": "#2a2a2a", "thickness": 8, "size": 37}, "encoding": {"x": {"field": "time", "type": "ordinal"}, "y": {"field": "med", "type": "quantitative"}}}
     ]},
    {"data": {"name": "sig"}, "transform": [{"filter": "datum.p == 'R2'"}],
     "layer": [
      {"mark": {"type": "rule", "color": "#000", "strokeWidth": 7}, "encoding": {"x": {"field": "from", "type": "ordinal"}, "x2": {"field": "to"}, "y": {"field": "y", "type": "quantitative"}}},
      {"transform": [{"filter": "datum.to == 'T1'"}], "mark": {"type": "text", "fontSize": 18, "dx": 22, "dy": -14}, "encoding": {"x": {"field": "from", "type": "ordinal"}, "y": {"field": "y", "type": "quantitative"}, "text": {"field": "sig"}}},
      {"transform": [{"filter": "datum.to == 'T2'"}], "mark": {"type": "text", "fontSize": 18, "dx": 52, "dy": -14}, "encoding": {"x": {"field": "from", "type": "ordinal"}, "y": {"field": "y", "type": "quantitative"}, "text": {"field": "sig"}}}
     ]}
  ]},
  {"data": {"name": "subj"}, "transform": [{"filter": "datum.p == 'R2'"}, {"fold": ["T0","T1","T2"], "as": ["time","value"]}, {"density": "value", "groupby": ["time"], "bandwidth": 0.45, "extent": [-1.42, 6.36]}],
   "mark": {"type": "area", "orient": "horizontal", "fillOpacity": 0.5, "stroke": "#000", "strokeWidth": 2},
   "encoding": {"y": {"field": "value", "type": "quantitative"}, "x": {"field": "density", "type": "quantitative", "stack": null, "scale": {"range": [585,665], "nice": false}, "axis": null}, "color": {"field": "time", "type": "nominal", "legend": null}}}
 ],
 "resolve": {"scale": {"x": "independent"}, "axis": {"x": "independent"}}
},
{"width": 1030, "height": 333,
 "layer": [
  {"data": {"name": "subj"}, "transform": [{"filter": "datum.p == 'L3'"}, {"fold": ["T0","T1","T2"], "as": ["time","value"]}],
   "layer": [
    {"transform": [{"filter": "datum.id % 5 == 0"}], "mark": {"type": "line", "color": "#c8c8c8", "strokeWidth": 1.5, "xOffset": -16},
     "encoding": {
      "x": {"field": "time", "type": "ordinal", "scale": {"type": "point", "domain": ["T0","T1","T2"], "range": [51,376], "padding": 0}, "axis": {"offset": 0, "title": null}},
      "y": {"field": "value", "type": "quantitative", "scale": {"domain": [-0.5,2], "range": [321,36], "nice": false, "zero": false}, "axis": {"offset": 0, "values": [-0.5,0,0.5,1,1.5,2], "format": ".1f", "title": null}},
      "detail": {"field": "id", "type": "nominal"}}},
    {"transform": [{"filter": "datum.id % 5 == 1"}], "mark": {"type": "line", "color": "#c8c8c8", "strokeWidth": 1.5, "xOffset": -8}, "encoding": {"x": {"field": "time", "type": "ordinal"}, "y": {"field": "value", "type": "quantitative"}, "detail": {"field": "id", "type": "nominal"}}},
    {"transform": [{"filter": "datum.id % 5 == 2"}], "mark": {"type": "line", "color": "#c8c8c8", "strokeWidth": 1.5, "xOffset": 0}, "encoding": {"x": {"field": "time", "type": "ordinal"}, "y": {"field": "value", "type": "quantitative"}, "detail": {"field": "id", "type": "nominal"}}},
    {"transform": [{"filter": "datum.id % 5 == 3"}], "mark": {"type": "line", "color": "#c8c8c8", "strokeWidth": 1.5, "xOffset": 8}, "encoding": {"x": {"field": "time", "type": "ordinal"}, "y": {"field": "value", "type": "quantitative"}, "detail": {"field": "id", "type": "nominal"}}},
    {"transform": [{"filter": "datum.id % 5 == 4"}], "mark": {"type": "line", "color": "#c8c8c8", "strokeWidth": 1.5, "xOffset": 16}, "encoding": {"x": {"field": "time", "type": "ordinal"}, "y": {"field": "value", "type": "quantitative"}, "detail": {"field": "id", "type": "nominal"}}},
    {"transform": [{"filter": "datum.id % 5 == 0"}], "mark": {"type": "point", "filled": true, "size": 90, "opacity": 1, "xOffset": -16}, "encoding": {"x": {"field": "time", "type": "ordinal"}, "y": {"field": "value", "type": "quantitative"}, "color": {"field": "time", "type": "nominal", "legend": null}}},
    {"transform": [{"filter": "datum.id % 5 == 1"}], "mark": {"type": "point", "filled": true, "size": 90, "opacity": 1, "xOffset": -8}, "encoding": {"x": {"field": "time", "type": "ordinal"}, "y": {"field": "value", "type": "quantitative"}, "color": {"field": "time", "type": "nominal", "legend": null}}},
    {"transform": [{"filter": "datum.id % 5 == 2"}], "mark": {"type": "point", "filled": true, "size": 90, "opacity": 1, "xOffset": 0}, "encoding": {"x": {"field": "time", "type": "ordinal"}, "y": {"field": "value", "type": "quantitative"}, "color": {"field": "time", "type": "nominal", "legend": null}}},
    {"transform": [{"filter": "datum.id % 5 == 3"}], "mark": {"type": "point", "filled": true, "size": 90, "opacity": 1, "xOffset": 8}, "encoding": {"x": {"field": "time", "type": "ordinal"}, "y": {"field": "value", "type": "quantitative"}, "color": {"field": "time", "type": "nominal", "legend": null}}},
    {"transform": [{"filter": "datum.id % 5 == 4"}], "mark": {"type": "point", "filled": true, "size": 90, "opacity": 1, "xOffset": 16}, "encoding": {"x": {"field": "time", "type": "ordinal"}, "y": {"field": "value", "type": "quantitative"}, "color": {"field": "time", "type": "nominal", "legend": null}}}
   ]},
  {"layer": [
    {"data": {"name": "box"}, "transform": [{"filter": "datum.p == 'L3'"}],
     "layer": [
      {"mark": {"type": "rule", "color": "#222", "strokeWidth": 3}, "encoding": {"x": {"field": "time", "type": "ordinal", "scale": {"type": "point", "domain": ["T0","T1","T2"], "range": [456,585], "padding": 0}, "axis": null}, "y": {"field": "lo", "type": "quantitative"}, "y2": {"field": "hi"}}},
      {"mark": {"type": "tick", "color": "#222", "thickness": 5, "size": 15}, "encoding": {"x": {"field": "time", "type": "ordinal"}, "y": {"field": "lo", "type": "quantitative"}}},
      {"mark": {"type": "tick", "color": "#222", "thickness": 5, "size": 15}, "encoding": {"x": {"field": "time", "type": "ordinal"}, "y": {"field": "hi", "type": "quantitative"}}},
      {"mark": {"type": "bar", "width": 36, "stroke": "#2a2a2a", "strokeWidth": 4}, "encoding": {"x": {"field": "time", "type": "ordinal"}, "y": {"field": "q1", "type": "quantitative"}, "y2": {"field": "q3"}, "color": {"field": "time", "type": "nominal", "legend": null}}},
      {"mark": {"type": "tick", "color": "#2a2a2a", "thickness": 8, "size": 36}, "encoding": {"x": {"field": "time", "type": "ordinal"}, "y": {"field": "med", "type": "quantitative"}}}
     ]},
    {"data": {"name": "sig"}, "transform": [{"filter": "datum.p == 'L3'"}],
     "layer": [
      {"mark": {"type": "rule", "color": "#000", "strokeWidth": 7}, "encoding": {"x": {"field": "from", "type": "ordinal"}, "x2": {"field": "to"}, "y": {"field": "y", "type": "quantitative"}}},
      {"transform": [{"filter": "datum.to == 'T1'"}], "mark": {"type": "text", "fontSize": 18, "dx": 15, "dy": -14}, "encoding": {"x": {"field": "from", "type": "ordinal"}, "y": {"field": "y", "type": "quantitative"}, "text": {"field": "sig"}}},
      {"transform": [{"filter": "datum.to == 'T2'"}], "mark": {"type": "text", "fontSize": 18, "dx": 47, "dy": -14}, "encoding": {"x": {"field": "from", "type": "ordinal"}, "y": {"field": "y", "type": "quantitative"}, "text": {"field": "sig"}}}
     ]}
  ]},
  {"data": {"name": "subj"}, "transform": [{"filter": "datum.p == 'L3'"}, {"fold": ["T0","T1","T2"], "as": ["time","value"]}, {"density": "value", "groupby": ["time"], "bandwidth": 0.12, "extent": [-0.46, 1.72]}],
   "mark": {"type": "area", "orient": "horizontal", "fillOpacity": 0.5, "stroke": "#000", "strokeWidth": 2},
   "encoding": {"y": {"field": "value", "type": "quantitative"}, "x": {"field": "density", "type": "quantitative", "stack": null, "scale": {"range": [650,732], "nice": false}, "axis": null}, "color": {"field": "time", "type": "nominal", "legend": null}}}
 ],
 "resolve": {"scale": {"x": "independent"}, "axis": {"x": "independent"}}
},
{"width": 730, "height": 333,
 "layer": [
  {"data": {"name": "subj"}, "transform": [{"filter": "datum.p == 'R3'"}, {"fold": ["T0","T1","T2"], "as": ["time","value"]}],
   "layer": [
    {"transform": [{"filter": "datum.id % 5 == 0"}], "mark": {"type": "line", "color": "#c8c8c8", "strokeWidth": 1.5, "xOffset": -16},
     "encoding": {
      "x": {"field": "time", "type": "ordinal", "scale": {"type": "point", "domain": ["T0","T1","T2"], "range": [48,368], "padding": 0}, "axis": {"offset": 27, "title": null}},
      "y": {"field": "value", "type": "quantitative", "scale": {"domain": [-0.5,2], "range": [345,63], "nice": false, "zero": false}, "axis": {"offset": 8, "values": [-0.5,0,0.5,1,1.5,2], "format": ".1f", "title": "MRS", "titleAngle": 0, "titleX": -194, "titleY": 43, "titleAlign": "center", "titleBaseline": "middle", "titleFontSize": 46}},
      "detail": {"field": "id", "type": "nominal"}}},
    {"transform": [{"filter": "datum.id % 5 == 1"}], "mark": {"type": "line", "color": "#c8c8c8", "strokeWidth": 1.5, "xOffset": -8}, "encoding": {"x": {"field": "time", "type": "ordinal"}, "y": {"field": "value", "type": "quantitative"}, "detail": {"field": "id", "type": "nominal"}}},
    {"transform": [{"filter": "datum.id % 5 == 2"}], "mark": {"type": "line", "color": "#c8c8c8", "strokeWidth": 1.5, "xOffset": 0}, "encoding": {"x": {"field": "time", "type": "ordinal"}, "y": {"field": "value", "type": "quantitative"}, "detail": {"field": "id", "type": "nominal"}}},
    {"transform": [{"filter": "datum.id % 5 == 3"}], "mark": {"type": "line", "color": "#c8c8c8", "strokeWidth": 1.5, "xOffset": 8}, "encoding": {"x": {"field": "time", "type": "ordinal"}, "y": {"field": "value", "type": "quantitative"}, "detail": {"field": "id", "type": "nominal"}}},
    {"transform": [{"filter": "datum.id % 5 == 4"}], "mark": {"type": "line", "color": "#c8c8c8", "strokeWidth": 1.5, "xOffset": 16}, "encoding": {"x": {"field": "time", "type": "ordinal"}, "y": {"field": "value", "type": "quantitative"}, "detail": {"field": "id", "type": "nominal"}}},
    {"transform": [{"filter": "datum.id % 5 == 0"}], "mark": {"type": "point", "filled": true, "size": 90, "opacity": 1, "xOffset": -16}, "encoding": {"x": {"field": "time", "type": "ordinal"}, "y": {"field": "value", "type": "quantitative"}, "color": {"field": "time", "type": "nominal", "legend": null}}},
    {"transform": [{"filter": "datum.id % 5 == 1"}], "mark": {"type": "point", "filled": true, "size": 90, "opacity": 1, "xOffset": -8}, "encoding": {"x": {"field": "time", "type": "ordinal"}, "y": {"field": "value", "type": "quantitative"}, "color": {"field": "time", "type": "nominal", "legend": null}}},
    {"transform": [{"filter": "datum.id % 5 == 2"}], "mark": {"type": "point", "filled": true, "size": 90, "opacity": 1, "xOffset": 0}, "encoding": {"x": {"field": "time", "type": "ordinal"}, "y": {"field": "value", "type": "quantitative"}, "color": {"field": "time", "type": "nominal", "legend": null}}},
    {"transform": [{"filter": "datum.id % 5 == 3"}], "mark": {"type": "point", "filled": true, "size": 90, "opacity": 1, "xOffset": 8}, "encoding": {"x": {"field": "time", "type": "ordinal"}, "y": {"field": "value", "type": "quantitative"}, "color": {"field": "time", "type": "nominal", "legend": null}}},
    {"transform": [{"filter": "datum.id % 5 == 4"}], "mark": {"type": "point", "filled": true, "size": 90, "opacity": 1, "xOffset": 16}, "encoding": {"x": {"field": "time", "type": "ordinal"}, "y": {"field": "value", "type": "quantitative"}, "color": {"field": "time", "type": "nominal", "legend": null}}}
   ]},
  {"layer": [
    {"data": {"name": "box"}, "transform": [{"filter": "datum.p == 'R3'"}],
     "layer": [
      {"mark": {"type": "rule", "color": "#222", "strokeWidth": 3}, "encoding": {"x": {"field": "time", "type": "ordinal", "scale": {"type": "point", "domain": ["T0","T1","T2"], "range": [449,578], "padding": 0}, "axis": null}, "y": {"field": "lo", "type": "quantitative"}, "y2": {"field": "hi"}}},
      {"mark": {"type": "tick", "color": "#222", "thickness": 5, "size": 15}, "encoding": {"x": {"field": "time", "type": "ordinal"}, "y": {"field": "lo", "type": "quantitative"}}},
      {"mark": {"type": "tick", "color": "#222", "thickness": 5, "size": 15}, "encoding": {"x": {"field": "time", "type": "ordinal"}, "y": {"field": "hi", "type": "quantitative"}}},
      {"mark": {"type": "bar", "width": 35, "stroke": "#2a2a2a", "strokeWidth": 4}, "encoding": {"x": {"field": "time", "type": "ordinal"}, "y": {"field": "q1", "type": "quantitative"}, "y2": {"field": "q3"}, "color": {"field": "time", "type": "nominal", "legend": null}}},
      {"mark": {"type": "tick", "color": "#2a2a2a", "thickness": 8, "size": 35}, "encoding": {"x": {"field": "time", "type": "ordinal"}, "y": {"field": "med", "type": "quantitative"}}}
     ]},
    {"data": {"name": "sig"}, "transform": [{"filter": "datum.p == 'R3'"}],
     "layer": [
      {"mark": {"type": "rule", "color": "#000", "strokeWidth": 7}, "encoding": {"x": {"field": "from", "type": "ordinal"}, "x2": {"field": "to"}, "y": {"field": "y", "type": "quantitative"}}},
      {"transform": [{"filter": "datum.to == 'T1'"}], "mark": {"type": "text", "fontSize": 18, "dx": 21, "dy": -14}, "encoding": {"x": {"field": "from", "type": "ordinal"}, "y": {"field": "y", "type": "quantitative"}, "text": {"field": "sig"}}},
      {"transform": [{"filter": "datum.to == 'T2'"}], "mark": {"type": "text", "fontSize": 18, "dx": 52, "dy": -14}, "encoding": {"x": {"field": "from", "type": "ordinal"}, "y": {"field": "y", "type": "quantitative"}, "text": {"field": "sig"}}}
     ]}
  ]},
  {"data": {"name": "subj"}, "transform": [{"filter": "datum.p == 'R3'"}, {"fold": ["T0","T1","T2"], "as": ["time","value"]}],
   "layer": [
    {"transform": [{"filter": "datum.time == 'T0'"}, {"density": "value", "groupby": ["time"], "bandwidth": 0.025, "extent": [-0.46, 1.54]}],
     "mark": {"type": "area", "orient": "horizontal", "fillOpacity": 0.5, "stroke": "#000", "strokeWidth": 2},
     "encoding": {"y": {"field": "value", "type": "quantitative"}, "x": {"field": "density", "type": "quantitative", "stack": null, "scale": {"range": [645,728], "nice": false}, "axis": null}, "color": {"field": "time", "type": "nominal", "legend": null}}},
    {"transform": [{"filter": "datum.time == 'T1'"}, {"density": "value", "groupby": ["time"], "bandwidth": 0.15, "extent": [-0.46, 1.54]}],
     "mark": {"type": "area", "orient": "horizontal", "fillOpacity": 0.5, "stroke": "#000", "strokeWidth": 2},
     "encoding": {"y": {"field": "value", "type": "quantitative"}, "x": {"field": "density", "type": "quantitative", "stack": null, "axis": null}, "color": {"field": "time", "type": "nominal", "legend": null}}},
    {"transform": [{"filter": "datum.time == 'T2'"}, {"density": "value", "groupby": ["time"], "bandwidth": 0.15, "extent": [-0.46, 1.54]}],
     "mark": {"type": "area", "orient": "horizontal", "fillOpacity": 0.5, "stroke": "#000", "strokeWidth": 2},
     "encoding": {"y": {"field": "value", "type": "quantitative"}, "x": {"field": "density", "type": "quantitative", "stack": null, "axis": null}, "color": {"field": "time", "type": "nominal", "legend": null}}}
   ]}
 ],
 "resolve": {"scale": {"x": "independent"}, "axis": {"x": "independent"}}
},
{"width": 1030, "height": 412,
 "layer": [
  {"data": {"name": "subj"}, "transform": [{"filter": "datum.p == 'L4'"}, {"fold": ["T0","T1","T2"], "as": ["time","value"]}],
   "layer": [
    {"transform": [{"filter": "datum.id % 5 == 0"}], "mark": {"type": "line", "color": "#c8c8c8", "strokeWidth": 1.5, "xOffset": -16},
     "encoding": {
      "x": {"field": "time", "type": "ordinal", "scale": {"type": "point", "domain": ["T0","T1","T2"], "range": [44,350], "padding": 0}, "axis": {"offset": 0, "title": null}},
      "y": {"field": "value", "type": "quantitative", "scale": {"domain": [-0.5,3], "range": [397,91], "nice": false, "zero": false}, "axis": {"offset": 10, "values": [-0.5,0,0.5,1,1.5,2,2.5,3], "format": ".1f", "title": null}},
      "detail": {"field": "id", "type": "nominal"}}},
    {"transform": [{"filter": "datum.id % 5 == 1"}], "mark": {"type": "line", "color": "#c8c8c8", "strokeWidth": 1.5, "xOffset": -8}, "encoding": {"x": {"field": "time", "type": "ordinal"}, "y": {"field": "value", "type": "quantitative"}, "detail": {"field": "id", "type": "nominal"}}},
    {"transform": [{"filter": "datum.id % 5 == 2"}], "mark": {"type": "line", "color": "#c8c8c8", "strokeWidth": 1.5, "xOffset": 0}, "encoding": {"x": {"field": "time", "type": "ordinal"}, "y": {"field": "value", "type": "quantitative"}, "detail": {"field": "id", "type": "nominal"}}},
    {"transform": [{"filter": "datum.id % 5 == 3"}], "mark": {"type": "line", "color": "#c8c8c8", "strokeWidth": 1.5, "xOffset": 8}, "encoding": {"x": {"field": "time", "type": "ordinal"}, "y": {"field": "value", "type": "quantitative"}, "detail": {"field": "id", "type": "nominal"}}},
    {"transform": [{"filter": "datum.id % 5 == 4"}], "mark": {"type": "line", "color": "#c8c8c8", "strokeWidth": 1.5, "xOffset": 16}, "encoding": {"x": {"field": "time", "type": "ordinal"}, "y": {"field": "value", "type": "quantitative"}, "detail": {"field": "id", "type": "nominal"}}},
    {"transform": [{"filter": "datum.id % 5 == 0"}], "mark": {"type": "point", "filled": true, "size": 90, "opacity": 1, "xOffset": -16}, "encoding": {"x": {"field": "time", "type": "ordinal"}, "y": {"field": "value", "type": "quantitative"}, "color": {"field": "time", "type": "nominal", "legend": null}}},
    {"transform": [{"filter": "datum.id % 5 == 1"}], "mark": {"type": "point", "filled": true, "size": 90, "opacity": 1, "xOffset": -8}, "encoding": {"x": {"field": "time", "type": "ordinal"}, "y": {"field": "value", "type": "quantitative"}, "color": {"field": "time", "type": "nominal", "legend": null}}},
    {"transform": [{"filter": "datum.id % 5 == 2"}], "mark": {"type": "point", "filled": true, "size": 90, "opacity": 1, "xOffset": 0}, "encoding": {"x": {"field": "time", "type": "ordinal"}, "y": {"field": "value", "type": "quantitative"}, "color": {"field": "time", "type": "nominal", "legend": null}}},
    {"transform": [{"filter": "datum.id % 5 == 3"}], "mark": {"type": "point", "filled": true, "size": 90, "opacity": 1, "xOffset": 8}, "encoding": {"x": {"field": "time", "type": "ordinal"}, "y": {"field": "value", "type": "quantitative"}, "color": {"field": "time", "type": "nominal", "legend": null}}},
    {"transform": [{"filter": "datum.id % 5 == 4"}], "mark": {"type": "point", "filled": true, "size": 90, "opacity": 1, "xOffset": 16}, "encoding": {"x": {"field": "time", "type": "ordinal"}, "y": {"field": "value", "type": "quantitative"}, "color": {"field": "time", "type": "nominal", "legend": null}}}
   ]},
  {"data": {"name": "box"}, "transform": [{"filter": "datum.p == 'L4'"}],
   "layer": [
    {"mark": {"type": "rule", "color": "#222", "strokeWidth": 3}, "encoding": {"x": {"field": "time", "type": "ordinal", "scale": {"type": "point", "domain": ["T0","T1","T2"], "range": [427,551], "padding": 0}, "axis": null}, "y": {"field": "lo", "type": "quantitative"}, "y2": {"field": "hi"}}},
    {"mark": {"type": "tick", "color": "#222", "thickness": 5, "size": 15}, "encoding": {"x": {"field": "time", "type": "ordinal"}, "y": {"field": "lo", "type": "quantitative"}}},
    {"mark": {"type": "tick", "color": "#222", "thickness": 5, "size": 15}, "encoding": {"x": {"field": "time", "type": "ordinal"}, "y": {"field": "hi", "type": "quantitative"}}},
    {"mark": {"type": "bar", "width": 35, "stroke": "#2a2a2a", "strokeWidth": 4}, "encoding": {"x": {"field": "time", "type": "ordinal"}, "y": {"field": "q1", "type": "quantitative"}, "y2": {"field": "q3"}, "color": {"field": "time", "type": "nominal", "legend": null}}},
    {"mark": {"type": "tick", "color": "#2a2a2a", "thickness": 8, "size": 35}, "encoding": {"x": {"field": "time", "type": "ordinal"}, "y": {"field": "med", "type": "quantitative"}}}
   ]},
  {"data": {"name": "subj"}, "transform": [{"filter": "datum.p == 'L4'"}, {"fold": ["T0","T1","T2"], "as": ["time","value"]}, {"density": "value", "groupby": ["time"], "bandwidth": 0.15, "extent": [-0.34, 2.81]}],
   "mark": {"type": "area", "orient": "horizontal", "fillOpacity": 0.5, "stroke": "#000", "strokeWidth": 2},
   "encoding": {"y": {"field": "value", "type": "quantitative"}, "x": {"field": "density", "type": "quantitative", "stack": null, "scale": {"range": [614,688], "nice": false}, "axis": null}, "color": {"field": "time", "type": "nominal", "legend": null}}}
 ],
 "resolve": {"scale": {"x": "independent"}, "axis": {"x": "independent"}}
},
{"width": 730, "height": 412,
 "layer": [
  {"data": {"name": "subj"}, "transform": [{"filter": "datum.p == 'R4'"}, {"fold": ["T0","T1","T2"], "as": ["time","value"]}],
   "layer": [
    {"transform": [{"filter": "datum.id % 5 == 0"}], "mark": {"type": "line", "color": "#c8c8c8", "strokeWidth": 1.5, "xOffset": -16},
     "encoding": {
      "x": {"field": "time", "type": "ordinal", "scale": {"type": "point", "domain": ["T0","T1","T2"], "range": [48,340], "padding": 0}, "axis": {"offset": 2, "title": null}},
      "y": {"field": "value", "type": "quantitative", "scale": {"domain": [-0.5,2.5], "range": [400,115], "nice": false, "zero": false}, "axis": {"offset": 0, "values": [-0.5,0,0.5,1,1.5,2,2.5], "format": ".1f", "title": "FSS", "titleAngle": 0, "titleX": -202, "titleY": 112, "titleAlign": "center", "titleBaseline": "middle", "titleFontSize": 46}},
      "detail": {"field": "id", "type": "nominal"}}},
    {"transform": [{"filter": "datum.id % 5 == 1"}], "mark": {"type": "line", "color": "#c8c8c8", "strokeWidth": 1.5, "xOffset": -8}, "encoding": {"x": {"field": "time", "type": "ordinal"}, "y": {"field": "value", "type": "quantitative"}, "detail": {"field": "id", "type": "nominal"}}},
    {"transform": [{"filter": "datum.id % 5 == 2"}], "mark": {"type": "line", "color": "#c8c8c8", "strokeWidth": 1.5, "xOffset": 0}, "encoding": {"x": {"field": "time", "type": "ordinal"}, "y": {"field": "value", "type": "quantitative"}, "detail": {"field": "id", "type": "nominal"}}},
    {"transform": [{"filter": "datum.id % 5 == 3"}], "mark": {"type": "line", "color": "#c8c8c8", "strokeWidth": 1.5, "xOffset": 8}, "encoding": {"x": {"field": "time", "type": "ordinal"}, "y": {"field": "value", "type": "quantitative"}, "detail": {"field": "id", "type": "nominal"}}},
    {"transform": [{"filter": "datum.id % 5 == 4"}], "mark": {"type": "line", "color": "#c8c8c8", "strokeWidth": 1.5, "xOffset": 16}, "encoding": {"x": {"field": "time", "type": "ordinal"}, "y": {"field": "value", "type": "quantitative"}, "detail": {"field": "id", "type": "nominal"}}},
    {"transform": [{"filter": "datum.id % 5 == 0"}], "mark": {"type": "point", "filled": true, "size": 90, "opacity": 1, "xOffset": -16}, "encoding": {"x": {"field": "time", "type": "ordinal"}, "y": {"field": "value", "type": "quantitative"}, "color": {"field": "time", "type": "nominal", "legend": null}}},
    {"transform": [{"filter": "datum.id % 5 == 1"}], "mark": {"type": "point", "filled": true, "size": 90, "opacity": 1, "xOffset": -8}, "encoding": {"x": {"field": "time", "type": "ordinal"}, "y": {"field": "value", "type": "quantitative"}, "color": {"field": "time", "type": "nominal", "legend": null}}},
    {"transform": [{"filter": "datum.id % 5 == 2"}], "mark": {"type": "point", "filled": true, "size": 90, "opacity": 1, "xOffset": 0}, "encoding": {"x": {"field": "time", "type": "ordinal"}, "y": {"field": "value", "type": "quantitative"}, "color": {"field": "time", "type": "nominal", "legend": null}}},
    {"transform": [{"filter": "datum.id % 5 == 3"}], "mark": {"type": "point", "filled": true, "size": 90, "opacity": 1, "xOffset": 8}, "encoding": {"x": {"field": "time", "type": "ordinal"}, "y": {"field": "value", "type": "quantitative"}, "color": {"field": "time", "type": "nominal", "legend": null}}},
    {"transform": [{"filter": "datum.id % 5 == 4"}], "mark": {"type": "point", "filled": true, "size": 90, "opacity": 1, "xOffset": 16}, "encoding": {"x": {"field": "time", "type": "ordinal"}, "y": {"field": "value", "type": "quantitative"}, "color": {"field": "time", "type": "nominal", "legend": null}}}
   ]},
  {"layer": [
    {"data": {"name": "box"}, "transform": [{"filter": "datum.p == 'R4'"}],
     "layer": [
      {"mark": {"type": "rule", "color": "#222", "strokeWidth": 3}, "encoding": {"x": {"field": "time", "type": "ordinal", "scale": {"type": "point", "domain": ["T0","T1","T2"], "range": [411,527], "padding": 0}, "axis": null}, "y": {"field": "lo", "type": "quantitative"}, "y2": {"field": "hi"}}},
      {"mark": {"type": "tick", "color": "#222", "thickness": 5, "size": 14}, "encoding": {"x": {"field": "time", "type": "ordinal"}, "y": {"field": "lo", "type": "quantitative"}}},
      {"mark": {"type": "tick", "color": "#222", "thickness": 5, "size": 14}, "encoding": {"x": {"field": "time", "type": "ordinal"}, "y": {"field": "hi", "type": "quantitative"}}},
      {"mark": {"type": "bar", "width": 32, "stroke": "#2a2a2a", "strokeWidth": 4}, "encoding": {"x": {"field": "time", "type": "ordinal"}, "y": {"field": "q1", "type": "quantitative"}, "y2": {"field": "q3"}, "color": {"field": "time", "type": "nominal", "legend": null}}},
      {"mark": {"type": "tick", "color": "#2a2a2a", "thickness": 8, "size": 32}, "encoding": {"x": {"field": "time", "type": "ordinal"}, "y": {"field": "med", "type": "quantitative"}}}
     ]},
    {"data": {"name": "sig"}, "transform": [{"filter": "datum.p == 'R4'"}],
     "layer": [
      {"mark": {"type": "rule", "color": "#000", "strokeWidth": 7}, "encoding": {"x": {"field": "from", "type": "ordinal"}, "x2": {"field": "to"}, "y": {"field": "y", "type": "quantitative"}}},
      {"transform": [{"filter": "datum.to == 'T1'"}], "mark": {"type": "text", "fontSize": 18, "dx": 11, "dy": -14}, "encoding": {"x": {"field": "from", "type": "ordinal"}, "y": {"field": "y", "type": "quantitative"}, "text": {"field": "sig"}}},
      {"transform": [{"filter": "datum.to == 'T2'"}], "mark": {"type": "text", "fontSize": 18, "dx": 45, "dy": -14}, "encoding": {"x": {"field": "from", "type": "ordinal"}, "y": {"field": "y", "type": "quantitative"}, "text": {"field": "sig"}}}
     ]}
  ]},
  {"data": {"name": "subj"}, "transform": [{"filter": "datum.p == 'R4'"}, {"fold": ["T0","T1","T2"], "as": ["time","value"]}, {"density": "value", "groupby": ["time"], "bandwidth": 0.12, "extent": [-0.45, 2.48]}],
   "mark": {"type": "area", "orient": "horizontal", "fillOpacity": 0.5, "stroke": "#000", "strokeWidth": 2},
   "encoding": {"y": {"field": "value", "type": "quantitative"}, "x": {"field": "density", "type": "quantitative", "stack": null, "scale": {"range": [586,661], "nice": false}, "axis": null}, "color": {"field": "time", "type": "nominal", "legend": null}}}
 ],
 "resolve": {"scale": {"x": "independent"}, "axis": {"x": "independent"}}
}
],
"config": {
 "view": {"stroke": null},
 "range": {"category": ["#1b9e77","#d95f02","#7570b3"]},
 "axis": {"grid": false, "labelFont": "Liberation Sans", "labelFontSize": 15, "labelColor": "#333", "domainColor": "#000", "domainWidth": 3, "tickColor": "#000", "tickWidth": 3, "titleFont": "Lato", "titleFontWeight": "normal", "titleColor": "#000"},
 "axisX": {"tickSize": 6, "labelPadding": 12, "labelAngle": 0},
 "axisY": {"tickSize": 8, "labelPadding": 16}
}
}
